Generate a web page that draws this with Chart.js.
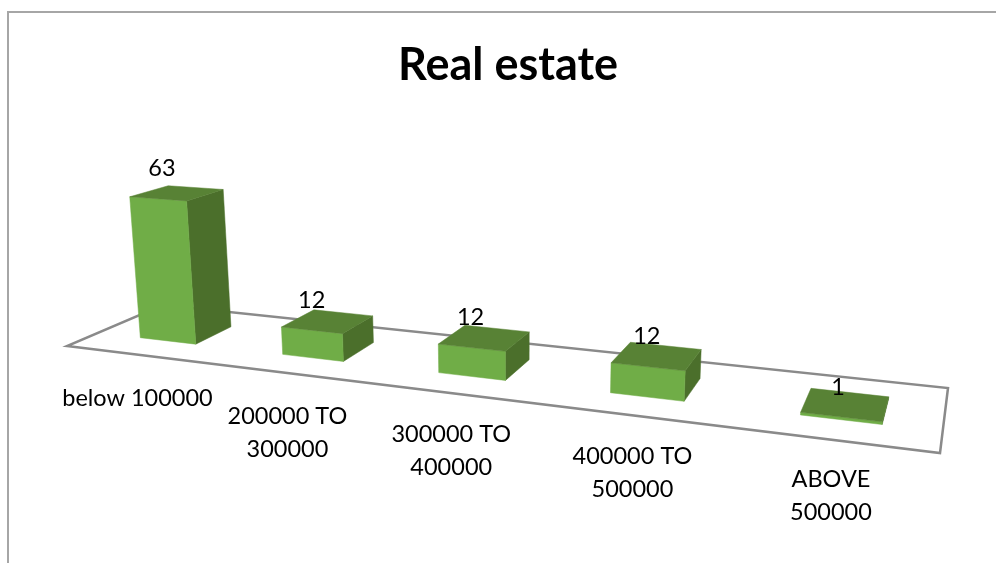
<!DOCTYPE html>
<html>
<head>
<meta charset="utf-8">
<title>Real estate</title>
<script src="https://cdn.jsdelivr.net/npm/chart.js@4/dist/chart.umd.min.js"></script>
<style>
  html, body { margin: 0; padding: 0; background: #fff; }
  canvas { display: block; }
</style>
</head>
<body>
<canvas id="chart" width="996" height="563"></canvas>
<script>
// ── Data ─────────────────────────────────────────────────────────────────────
const categories = [
  'below 100000',
  ['200000 TO', '300000'],
  ['300000 TO', '400000'],
  ['400000 TO', '500000'],
  ['ABOVE', '500000'],
]
const values = [63, 12, 12, 12, 1]

// ── Colours and fonts ────────────────────────────────────────────────────────
const FRONT_COLOR = '#70ad47'
const SIDE_COLOR  = '#4b6f2b'
const TOP_COLOR   = '#588235'
const FLOOR_LINE  = '#8a8a8a'
const FRAME_LINE  = '#a6a6a6'
const LABEL_FONT  = "23.5px Lato, 'Open Sans', sans-serif"

// ── Perspective camera ───────────────────────────────────────────────────────
// Floor corners on the page, going round from front-left
const FLOOR = [[67, 346], [940, 453], [948, 388], [163, 305]]
const VERTICAL_VP  = [513, 5300]   // lines going up converge on this point
const HEIGHT_GAIN  = -0.0313       // projective weight of a full-height column
const BAR_NEAR = 0.3, BAR_FAR = 0.7  // bar footprint across the floor depth
const BAR_SHIFT = 0.003              // bars sit a touch right of the floor's slots

// Value labels and category labels sit off the projected anchor by this much
const VALUE_DX = [4, 0, -1, -1, -3]
const VALUE_DY = -30
const CATEGORY_DX = [-1, 0, 0, 0, -3]
const CATEGORY_DROP = [44, 43, 41, 41, 39]
const CATEGORY_LINE = 33

// Square-to-quad homography for the floor, with an extra column for height
function buildCamera([p0, p1, p2, p3]) {
  const dx1 = p1[0] - p2[0], dx2 = p3[0] - p2[0], sx = p0[0] - p1[0] + p2[0] - p3[0]
  const dy1 = p1[1] - p2[1], dy2 = p3[1] - p2[1], sy = p0[1] - p1[1] + p2[1] - p3[1]
  const den = dx1 * dy2 - dx2 * dy1
  const g = (sx * dy2 - dx2 * sy) / den
  const h = (dx1 * sy - sx * dy1) / den
  const a = p1[0] - p0[0] + g * p1[0], b = p3[0] - p0[0] + h * p3[0]
  const d = p1[1] - p0[1] + g * p1[1], e = p3[1] - p0[1] + h * p3[1]
  // u: along the floor, v: into the floor, t: height as a 0..1 share of the y scale
  return (u, v, t = 0) => {
    const k = HEIGHT_GAIN * t
    const w = g * u + h * v + 1 + k
    return [
      (a * u + b * v + p0[0] + VERTICAL_VP[0] * k) / w,
      (d * u + e * v + p0[1] + VERTICAL_VP[1] * k) / w,
    ]
  }
}

const project = buildCamera(FLOOR)

function fillPoly(ctx, color, pts) {
  ctx.fillStyle = color
  ctx.strokeStyle = color
  ctx.lineWidth = 0.5
  ctx.beginPath()
  pts.forEach((p, i) => (i ? ctx.lineTo(p[0], p[1]) : ctx.moveTo(p[0], p[1])))
  ctx.closePath()
  ctx.fill()
  ctx.stroke()
}

// ── Frame and floor go under the bars ────────────────────────────────────────
const floorPlugin = {
  id: 'floor',
  beforeDatasetsDraw(chart) {
    const { ctx, width, height } = chart
    ctx.save()

    ctx.strokeStyle = FRAME_LINE
    ctx.lineWidth = 2
    ctx.beginPath()
    ctx.moveTo(8, height)
    ctx.lineTo(8, 12)
    ctx.lineTo(width, 12)
    ctx.stroke()

    ctx.strokeStyle = FLOOR_LINE
    ctx.lineWidth = 2.5
    ctx.beginPath()
    FLOOR.forEach((p, i) => (i ? ctx.lineTo(p[0], p[1]) : ctx.moveTo(p[0], p[1])))
    ctx.closePath()
    ctx.stroke()

    ctx.restore()
  },
}

// ── Turn each flat bar element into a box standing on the floor ──────────────
const boxPlugin = {
  id: 'boxes',
  afterDatasetsDraw(chart) {
    const { ctx, chartArea, scales } = chart
    const bars = chart.getDatasetMeta(0).data
    const toU = px => (px - chartArea.left) / chartArea.width

    ctx.save()
    ctx.textAlign = 'center'
    ctx.textBaseline = 'middle'

    bars.forEach(bar => {
      const { x, y, base, width } = bar.getProps(['x', 'y', 'base', 'width'])
      const u0 = toU(x - width / 2) + BAR_SHIFT
      const u1 = toU(x + width / 2) + BAR_SHIFT
      const t  = (base - y) / chartArea.height

      const fl = project(u0, BAR_NEAR), fr = project(u1, BAR_NEAR), br = project(u1, BAR_FAR)
      const tfl = project(u0, BAR_NEAR, t), tfr = project(u1, BAR_NEAR, t)
      const tbr = project(u1, BAR_FAR, t), tbl = project(u0, BAR_FAR, t)

      fillPoly(ctx, SIDE_COLOR, [fr, br, tbr, tfr])
      fillPoly(ctx, FRONT_COLOR, [fl, fr, tfr, tfl])
      fillPoly(ctx, TOP_COLOR, [tfl, tfr, tbr, tbl])
    })

    ctx.fillStyle = '#000'
    ctx.font = LABEL_FONT
    bars.forEach((bar, i) => {
      const { x, y, base } = bar.getProps(['x', 'y', 'base'])
      const u = toU(x) + BAR_SHIFT
      const anchor = project(u, BAR_NEAR, (base - y) / chartArea.height)
      ctx.fillText(String(values[i]), anchor[0] + VALUE_DX[i], anchor[1] + VALUE_DY)

      const foot = project(u, 0)
      const lines = [].concat(scales.x.getLabels()[i])
      lines.forEach((line, n) => {
        ctx.fillText(line, foot[0] + CATEGORY_DX[i], foot[1] + CATEGORY_DROP[i] + n * CATEGORY_LINE)
      })
    })

    ctx.restore()
  },
}

// ── Chart ────────────────────────────────────────────────────────────────────
new Chart(document.getElementById('chart'), {
  type: 'bar',
  data: {
    labels: categories,
    datasets: [{
      data: values,
      backgroundColor: 'transparent',
      borderWidth: 0,
      categoryPercentage: 1,
      barPercentage: 0.4,
    }],
  },
  options: {
    responsive: false,
    animation: false,
    layout: { padding: { left: 20, top: 38 } },
    plugins: {
      legend: { display: false },
      tooltip: { enabled: false },
      title: {
        display: true,
        text: 'Real estate',
        color: '#000',
        font: { size: 45, weight: '700', family: "Lato, 'Open Sans', sans-serif" },
        padding: { top: 0, bottom: 10 },
      },
    },
    scales: {
      x: { display: false },
      y: { display: false, min: 0, max: 70 },
    },
  },
  plugins: [floorPlugin, boxPlugin],
})
</script>
</body>
</html>
